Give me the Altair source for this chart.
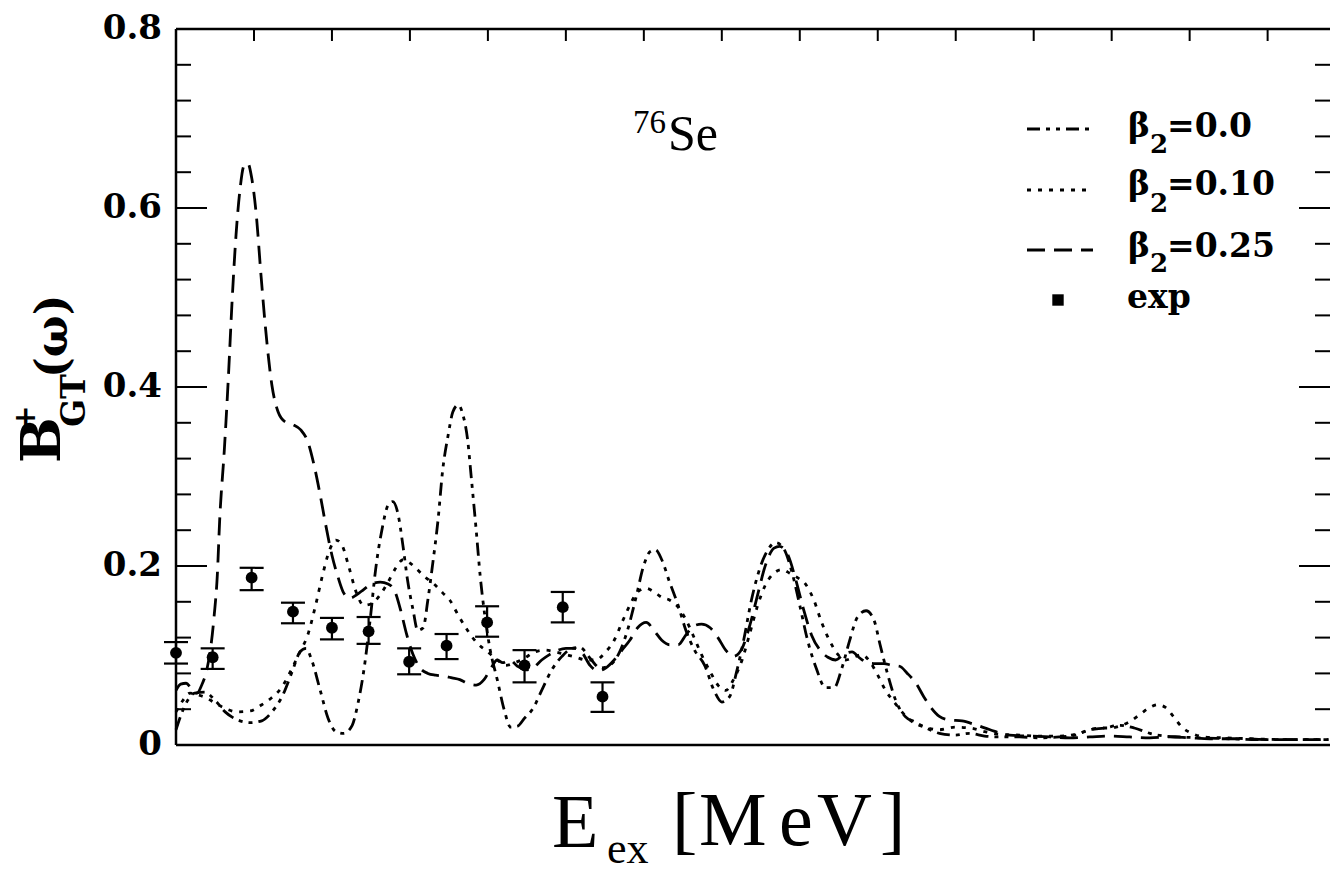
import altair as alt
import pandas as pd

W, H = 1154, 716

# ---- curves (E in MeV, B_GT+ strength) ----
b00_E = [0.0, 0.08, 0.15, 0.24, 0.37, 0.50, 0.63, 0.79, 0.95, 1.10, 1.23, 1.36, 1.49, 1.59, 1.67, 1.74,
         1.85, 1.95, 2.05, 2.15, 2.26, 2.33, 2.41, 2.49, 2.56, 2.64, 2.72, 2.78, 2.85, 2.91, 2.97, 3.04,
         3.10, 3.17, 3.23, 3.29, 3.36, 3.42, 3.49, 3.55, 3.62, 3.68, 3.74, 3.79, 3.85, 3.90, 3.96, 4.03,
         4.12, 4.21, 4.29, 4.38, 4.47, 4.58, 4.69, 4.82, 4.95, 5.08, 5.18, 5.31, 5.44, 5.56, 5.69, 5.79,
         5.90, 6.00, 6.08, 6.15, 6.23, 6.33, 6.44, 6.54, 6.65, 6.78, 6.90, 7.00, 7.10, 7.19, 7.28, 7.38,
         7.49, 7.59, 7.69, 7.79, 7.90, 8.00, 8.10, 8.21, 8.33, 8.44, 8.54, 8.64, 8.74, 8.85, 8.95, 9.03,
         9.13, 9.23, 9.35, 9.47, 9.60, 9.79, 9.99, 10.18, 10.37, 10.56, 10.82, 11.08, 11.33, 11.53, 11.72,
         11.91, 12.10, 12.29, 12.49, 12.68, 12.87, 13.13, 13.51, 13.90, 14.41, 14.78]
b00_B = [0.017, 0.037, 0.050, 0.058, 0.059, 0.050, 0.037, 0.028, 0.025, 0.027, 0.037, 0.054, 0.082, 0.104, 0.108, 0.095,
         0.061, 0.030, 0.015, 0.013, 0.022, 0.045, 0.084, 0.140, 0.196, 0.240, 0.268, 0.272, 0.257, 0.223, 0.184, 0.151,
         0.128, 0.131, 0.162, 0.201, 0.251, 0.307, 0.346, 0.372, 0.380, 0.369, 0.341, 0.296, 0.240, 0.190, 0.145, 0.106,
         0.073, 0.039, 0.020, 0.021, 0.030, 0.041, 0.061, 0.084, 0.099, 0.108, 0.109, 0.097, 0.086, 0.089, 0.104, 0.128,
         0.165, 0.201, 0.216, 0.218, 0.207, 0.182, 0.156, 0.128, 0.106, 0.089, 0.061, 0.048, 0.054, 0.082, 0.117, 0.162,
         0.198, 0.218, 0.226, 0.220, 0.193, 0.156, 0.117, 0.086, 0.064, 0.064, 0.086, 0.117, 0.143, 0.150, 0.140, 0.112,
         0.078, 0.050, 0.032, 0.026, 0.020, 0.013, 0.011, 0.013, 0.010, 0.009, 0.009, 0.008, 0.009, 0.011, 0.017,
         0.019, 0.022, 0.019, 0.013, 0.010, 0.009, 0.008, 0.007, 0.006, 0.006, 0.006]

b10_E = [0.0, 0.09, 0.18, 0.28, 0.38, 0.50, 0.63, 0.79, 0.95, 1.10, 1.23, 1.36, 1.49, 1.59, 1.69, 1.79,
         1.88, 1.97, 2.05, 2.13, 2.22, 2.31, 2.41, 2.51, 2.62, 2.72, 2.82, 2.91, 2.99, 3.06, 3.19, 3.32,
         3.42, 3.51, 3.62, 3.74, 3.86, 4.00, 4.12, 4.23, 4.35, 4.47, 4.60, 4.73, 4.87, 5.00, 5.13, 5.26,
         5.38, 5.51, 5.62, 5.72, 5.82, 5.92, 6.03, 6.13, 6.23, 6.33, 6.44, 6.54, 6.64, 6.74, 6.85, 6.95,
         7.05, 7.15, 7.26, 7.36, 7.46, 7.56, 7.67, 7.77, 7.87, 7.97, 8.08, 8.18, 8.28, 8.38, 8.49, 8.59,
         8.69, 8.79, 8.90, 9.00, 9.10, 9.21, 9.31, 9.44, 9.60, 9.79, 9.99, 10.18, 10.37, 10.56, 10.82,
         11.08, 11.33, 11.53, 11.72, 11.85, 11.97, 12.10, 12.23, 12.36, 12.49, 12.59, 12.69, 12.79, 12.90,
         13.03, 13.19, 13.45, 13.77, 14.28, 14.78]
b10_B = [0.037, 0.050, 0.058, 0.056, 0.053, 0.047, 0.041, 0.037, 0.038, 0.045, 0.053, 0.065, 0.086, 0.104, 0.123, 0.156,
         0.190, 0.218, 0.229, 0.223, 0.198, 0.171, 0.156, 0.158, 0.168, 0.182, 0.198, 0.207, 0.204, 0.199, 0.188, 0.179,
         0.170, 0.162, 0.145, 0.128, 0.114, 0.104, 0.095, 0.089, 0.092, 0.097, 0.104, 0.106, 0.104, 0.101, 0.098, 0.095,
         0.095, 0.104, 0.117, 0.137, 0.156, 0.171, 0.175, 0.171, 0.165, 0.162, 0.154, 0.140, 0.121, 0.101, 0.082, 0.067,
         0.061, 0.073, 0.095, 0.125, 0.156, 0.179, 0.192, 0.196, 0.192, 0.187, 0.179, 0.162, 0.137, 0.117, 0.101, 0.095,
         0.098, 0.101, 0.093, 0.078, 0.061, 0.048, 0.037, 0.026, 0.020, 0.017, 0.020, 0.019, 0.015, 0.012, 0.011,
         0.010, 0.010, 0.012, 0.017, 0.019, 0.019, 0.021, 0.026, 0.034, 0.042, 0.045, 0.042, 0.032, 0.020,
         0.013, 0.009, 0.008, 0.007, 0.006, 0.006]

b25_E = [0.0, 0.06, 0.13, 0.19, 0.27, 0.33, 0.40, 0.45, 0.49, 0.53, 0.56, 0.62, 0.67, 0.72, 0.77, 0.82,
         0.87, 0.92, 0.97, 1.03, 1.09, 1.15, 1.23, 1.31, 1.40, 1.50, 1.60, 1.69, 1.77, 1.85, 1.92, 2.00,
         2.08, 2.15, 2.23, 2.32, 2.41, 2.51, 2.62, 2.72, 2.81, 2.88, 2.96, 3.04, 3.13, 3.23, 3.33, 3.44,
         3.54, 3.64, 3.74, 3.85, 3.95, 4.04, 4.12, 4.19, 4.28, 4.38, 4.49, 4.59, 4.69, 4.79, 4.90, 5.00,
         5.10, 5.21, 5.31, 5.41, 5.51, 5.62, 5.72, 5.82, 5.92, 6.03, 6.13, 6.23, 6.33, 6.44, 6.54, 6.64,
         6.74, 6.85, 6.95, 7.05, 7.15, 7.26, 7.36, 7.46, 7.56, 7.67, 7.74, 7.85, 7.95, 8.05, 8.15, 8.26,
         8.36, 8.46, 8.56, 8.67, 8.77, 8.87, 8.97, 9.08, 9.18, 9.28, 9.38, 9.49, 9.59, 9.69, 9.79, 9.92,
         10.08, 10.24, 10.44, 10.69, 10.95, 11.21, 11.46, 11.72, 11.97, 12.23, 12.49, 12.74, 13.00, 13.26,
         13.64, 14.03, 14.41, 14.78]
b25_B = [0.061, 0.068, 0.069, 0.064, 0.058, 0.067, 0.086, 0.112, 0.145, 0.190, 0.251, 0.330, 0.408, 0.497, 0.570, 0.620,
         0.647, 0.650, 0.634, 0.592, 0.525, 0.464, 0.402, 0.372, 0.361, 0.358, 0.352, 0.339, 0.313, 0.279, 0.246, 0.212,
         0.187, 0.170, 0.164, 0.168, 0.174, 0.180, 0.182, 0.180, 0.171, 0.151, 0.123, 0.101, 0.086, 0.080, 0.078, 0.077,
         0.075, 0.073, 0.069, 0.067, 0.073, 0.086, 0.095, 0.092, 0.095, 0.088, 0.084, 0.087, 0.095, 0.101, 0.106, 0.108,
         0.108, 0.103, 0.089, 0.083, 0.086, 0.095, 0.106, 0.117, 0.131, 0.137, 0.128, 0.117, 0.112, 0.112, 0.123, 0.133,
         0.135, 0.131, 0.120, 0.106, 0.099, 0.108, 0.134, 0.168, 0.201, 0.220, 0.222, 0.212, 0.184, 0.151, 0.123, 0.106,
         0.098, 0.095, 0.101, 0.104, 0.097, 0.092, 0.091, 0.091, 0.089, 0.088, 0.080, 0.069, 0.054, 0.041, 0.032, 0.028,
         0.027, 0.023, 0.017, 0.011, 0.010, 0.009, 0.008, 0.009, 0.010, 0.009, 0.008, 0.009, 0.008, 0.007,
         0.007, 0.006, 0.006, 0.006]

series_names = ["β2=0.0", "β2=0.10", "β2=0.25"]

# ---- experimental points ----
exp_E = [0.0, 0.47, 0.97, 1.50, 2.00, 2.47, 2.99, 3.47, 3.99, 4.47, 4.96, 5.47]
exp_B = [0.103, 0.098, 0.187, 0.149, 0.131, 0.127, 0.093, 0.111, 0.137, 0.089, 0.154, 0.054]
exp_lo = [0.091, 0.085, 0.173, 0.136, 0.118, 0.113, 0.079, 0.096, 0.121, 0.070, 0.137, 0.037]
exp_hi = [0.115, 0.108, 0.198, 0.159, 0.142, 0.143, 0.108, 0.124, 0.155, 0.106, 0.171, 0.070]

# ---- axis ticks ----
y_labels = [0, 0.2, 0.4, 0.6, 0.8]
y_label_text = ["0", "0.2", "0.4", "0.6", "0.8"]
y_major_ticks = [0.2, 0.4, 0.6]
y_minor_ticks = [0.04, 0.08, 0.12, 0.16, 0.24, 0.28, 0.32, 0.36, 0.44, 0.48, 0.52, 0.56, 0.64, 0.68, 0.72, 0.76]
x_top_ticks = list(range(1, 15))

curves = pd.DataFrame({
    "E": b00_E + b10_E + b25_E,
    "B": b00_B + b10_B + b25_B,
    "beta": [series_names[0]] * len(b00_E) + [series_names[1]] * len(b10_E) + [series_names[2]] * len(b25_E),
})
exp_df = pd.DataFrame({"E": exp_E, "B": exp_B, "lo": exp_lo, "hi": exp_hi})
ylab_df = pd.DataFrame({"v": y_labels, "t": y_label_text})

xs = alt.Scale(domain=[0, 14.8], nice=False, zero=False)
ys = alt.Scale(domain=[0, 0.8], nice=False, zero=False)

dashes = [[13, 6, 4, 6, 4, 6], [4, 7], [18, 9]]
SERIF_B = "DejaVu Serif"
TIMES = "Liberation Serif"
LW = 2.8

one = pd.DataFrame({"k": [0]})

lines = alt.Chart(curves).mark_line(color="black", strokeWidth=LW, interpolate="monotone").encode(
    x=alt.X("E:Q", scale=xs, axis=None),
    y=alt.Y("B:Q", scale=ys, axis=None),
    strokeDash=alt.StrokeDash("beta:N", scale=alt.Scale(domain=series_names, range=dashes), legend=None),
    detail="beta:N",
)

err = alt.Chart(exp_df).mark_rule(color="black", strokeWidth=2.2).encode(
    x=alt.X("E:Q", scale=xs, axis=None), y=alt.Y("lo:Q", scale=ys, axis=None), y2="hi:Q")
cap_lo = alt.Chart(exp_df).mark_tick(color="black", orient="horizontal", size=24, thickness=2.2, opacity=1).encode(
    x=alt.X("E:Q", scale=xs, axis=None), y=alt.Y("lo:Q", scale=ys, axis=None))
cap_hi = alt.Chart(exp_df).mark_tick(color="black", orient="horizontal", size=24, thickness=2.2, opacity=1).encode(
    x=alt.X("E:Q", scale=xs, axis=None), y=alt.Y("hi:Q", scale=ys, axis=None))
pts = alt.Chart(exp_df).mark_point(filled=True, shape="circle", size=140, color="black", opacity=1).encode(
    x=alt.X("E:Q", scale=xs, axis=None), y=alt.Y("B:Q", scale=ys, axis=None))

ylabels = alt.Chart(ylab_df).mark_text(font=SERIF_B, fontWeight="bold", fontSize=34, color="black",
                                       align="right", baseline="middle").encode(
    y=alt.Y("v:Q", scale=ys, axis=None), x=alt.value(-14), text="t:N")

# ticks (inward)
major_df = pd.DataFrame({"v": y_major_ticks})
minor_df = pd.DataFrame({"v": y_minor_ticks})
top_df = pd.DataFrame({"v": x_top_ticks})


def yticks(df, x0, x1):
    return alt.Chart(df).mark_rule(color="black", strokeWidth=2).encode(
        y=alt.Y("v:Q", scale=ys, axis=None), x=alt.value(x0), x2=alt.value(x1))


tick_layers = [
    yticks(major_df, 0, 31), yticks(minor_df, 0, 15),
    yticks(major_df, W - 31, W), yticks(minor_df, W - 15, W),
    alt.Chart(top_df).mark_rule(color="black", strokeWidth=2).encode(
        x=alt.X("v:Q", scale=xs, axis=None), y=alt.value(0), y2=alt.value(12)),
]

frame = [
    alt.Chart(one).mark_rule(color="black", strokeWidth=2.5).encode(x=alt.value(0), y=alt.value(0), y2=alt.value(H)),
    alt.Chart(one).mark_rule(color="black", strokeWidth=2.5).encode(y=alt.value(0), x=alt.value(0), x2=alt.value(W)),
    alt.Chart(one).mark_rule(color="black", strokeWidth=2.5).encode(y=alt.value(H), x=alt.value(0), x2=alt.value(W)),
]


def txt(s, x, y, size, font=SERIF_B, weight="bold", angle=0, align="left", baseline="alphabetic"):
    kw = dict(font=font, fontSize=size, fontWeight=weight, color="black", align=align, baseline=baseline)
    if angle:
        kw["angle"] = angle
    return alt.Chart(one).mark_text(**kw).encode(x=alt.value(x), y=alt.value(y), text=alt.value(s))


texts = [
    # y-axis title B^+_GT(omega)
    txt("B", -116, 434, 54, angle=270),
    txt("+", -150, 389, 30, angle=270, align="center", baseline="middle"),
    txt("GT", -91, 398, 33, angle=270),
    txt("(ω)", -109, 349, 44, angle=270),
    # x-axis title E_ex [MeV]
    txt("E", 376, 818, 76, font=TIMES, weight="normal"),
    txt("ex", 431, 834, 44, font=TIMES, weight="normal"),
    txt("[", 496, 816, 76, font=TIMES, weight="normal"),
    txt("M", 523, 816, 76, font=TIMES, weight="normal"),
    txt("e", 603, 816, 76, font=TIMES, weight="normal"),
    txt("V", 641, 816, 76, font=TIMES, weight="normal"),
    txt("]", 704, 816, 76, font=TIMES, weight="normal"),
    # nucleus label
    txt("76", 457, 104, 33, font=TIMES, weight="normal"),
    txt("Se", 492, 121, 50, font=TIMES, weight="normal"),
    # legend labels
    txt("β", 952, 108, 33), txt("2", 974, 124, 26), txt("=0.0", 991, 108, 33),
    txt("β", 952, 166, 33), txt("2", 974, 183, 26), txt("=0.10", 991, 166, 33),
    txt("β", 952, 228, 33), txt("2", 974, 243, 26), txt("=0.25", 991, 228, 33),
    txt("exp", 951, 279, 33),
]

legend_marks = [
    alt.Chart(one).mark_rule(color="black", strokeWidth=LW, strokeDash=dashes[0]).encode(
        x=alt.value(851), x2=alt.value(917), y=alt.value(100)),
    alt.Chart(one).mark_rule(color="black", strokeWidth=LW, strokeDash=dashes[1]).encode(
        x=alt.value(851), x2=alt.value(917), y=alt.value(161)),
    alt.Chart(one).mark_rule(color="black", strokeWidth=LW, strokeDash=dashes[2]).encode(
        x=alt.value(851), x2=alt.value(917), y=alt.value(221)),
    alt.Chart(one).mark_point(filled=True, shape="square", size=130, color="black", opacity=1).encode(
        x=alt.value(882), y=alt.value(271)),
]

chart = alt.layer(lines, err, cap_lo, cap_hi, pts, ylabels, *tick_layers, *frame, *texts,
                  *legend_marks).properties(
    width=W, height=H,
    padding={"left": 176, "top": 29, "right": 0, "bottom": 128},
    autosize=alt.AutoSizeParams(type="none"),
).configure_view(stroke=None)

chart.save("out.html", embed_options={"renderer": "svg", "actions": False})
